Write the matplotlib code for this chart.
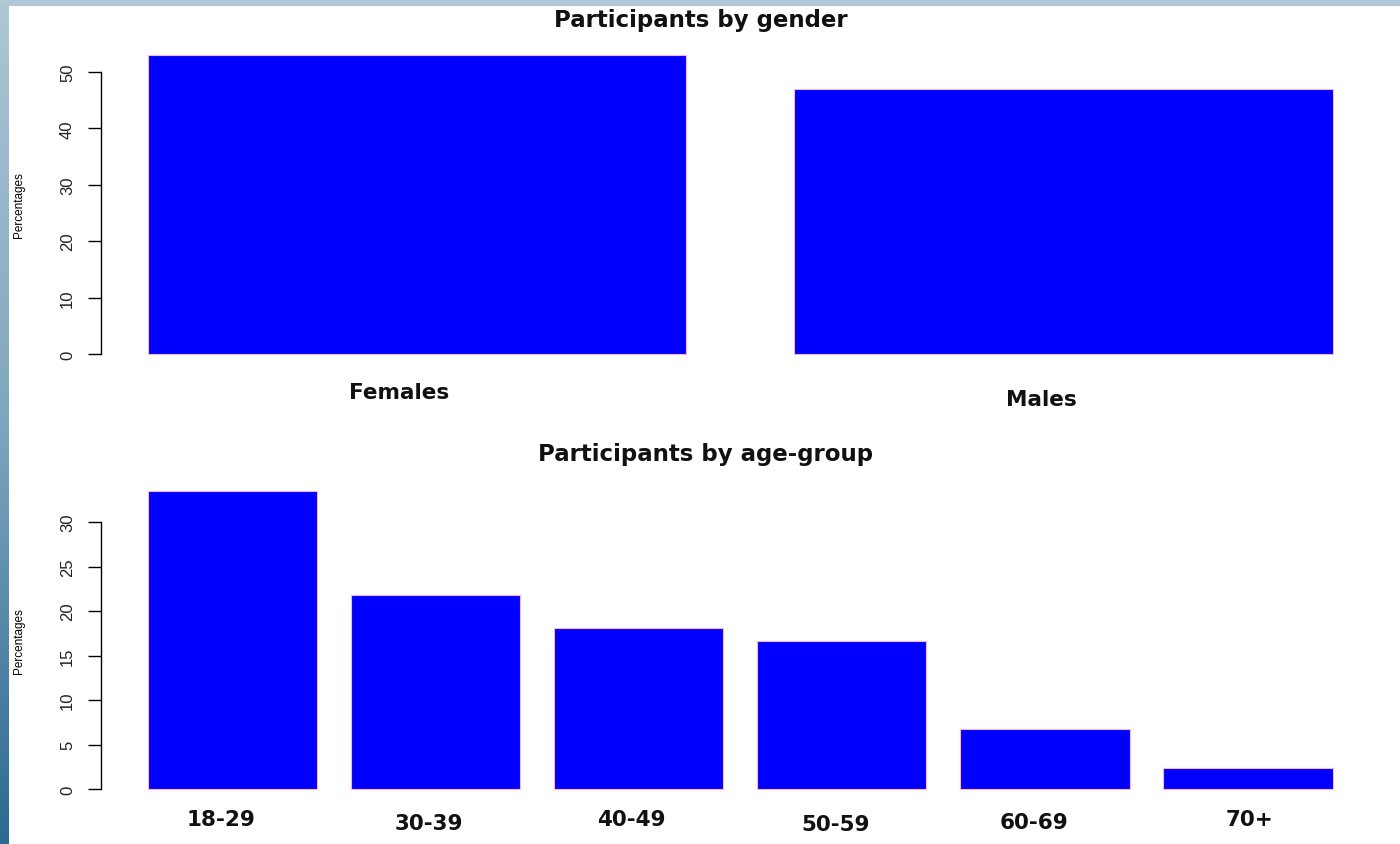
import numpy as np
import matplotlib.pyplot as plt
from matplotlib.colors import LinearSegmentedColormap

# data
gender_labels = ['Females', 'Males']
gender_pct = [53.0, 47.0]
gender_ticks = [0, 10, 20, 30, 40, 50]

age_labels = ['18-29', '30-39', '40-49', '50-59', '60-69', '70+']
age_pct = [33.5, 21.8, 18.1, 16.6, 6.7, 2.4]
age_ticks = [0, 5, 10, 15, 20, 25, 30]

W, H = 1400, 845
fig = plt.figure(figsize=(W / 100, H / 100), dpi=100)
fig.patch.set_facecolor('white')


def px(left, top, right, bottom):
    return [left / W, 1 - bottom / H, (right - left) / W, (bottom - top) / H]


# slide background showing at the edges
bg = fig.add_axes(px(0, 0, 9, H))
grad = np.linspace(0, 1, 256).reshape(-1, 1)
cmap = LinearSegmentedColormap.from_list('slide', ['#adc7d5', '#7fa6bd', '#2c6a91'])
bg.imshow(grad, aspect='auto', cmap=cmap, extent=[0, 1, 0, 1], origin='upper')
bg.axis('off')
top_strip = fig.add_axes(px(0, 0, W, 7))
top_strip.set_facecolor('#b1c9d7')
top_strip.set_xticks([])
top_strip.set_yticks([])
for s in top_strip.spines.values():
    s.set_visible(False)

narrow = ['Liberation Sans', 'DejaVu Sans']


def r_barplot(ax, labels, vals, ticks, dx, dy):
    n = len(vals)
    x = np.arange(n) * 1.2 + 0.7
    ax.bar(x, vals, width=1.0, color='#0000ff', edgecolor='#ffb6c1', linewidth=0.8)
    span = n * 1.2 - 0.2
    ax.set_xlim(0.2 - 0.04 * span, n * 1.2 + 0.04 * span)
    top = max(vals)
    ax.set_ylim(-0.04 * top, 1.04 * top)
    for s in ['top', 'right', 'bottom']:
        ax.spines[s].set_visible(False)
    ax.spines['left'].set_bounds(ticks[0], ticks[-1])
    ax.spines['left'].set_linewidth(1.0)
    ax.set_xticks([])
    ax.set_yticks(ticks)
    ax.set_yticklabels([str(t) for t in ticks], rotation=90, va='center',
                       family=narrow, fontsize=12, color='#222222')
    ax.tick_params(axis='y', direction='out', length=9.4, width=1.0, pad=9)
    ax.set_ylabel('Percentages', family=narrow, fontsize=8.5)
    ax.yaxis.set_label_coords(-0.059, 0.5)
    for xi, lab, ox, oy in zip(x, labels, dx, dy):
        ax.annotate(lab, (xi, 0), xycoords=('data', 'axes fraction'),
                    xytext=(ox, -oy), textcoords='offset pixels',
                    ha='center', va='center', fontsize=15.5, fontweight='bold',
                    color='#111111', family='DejaVu Sans')


ax1 = fig.add_axes(px(100.6, 44, 1380, 367))
r_barplot(ax1, gender_labels, gender_pct, gender_ticks,
          [-18, -22], [26, 33])

ax2 = fig.add_axes(px(100.6, 480, 1380, 802))
r_barplot(ax2, age_labels, age_pct, age_ticks,
          [-12, -7, -7, -6, -11, 2], [18, 22, 18, 23, 21, 18])

fig.text(701 / W, 1 - 20 / H, 'Participants by gender', ha='center', va='center',
         fontsize=16.5, fontweight='bold', family='DejaVu Sans', color='#111111')
fig.text(706 / W, 1 - 455 / H, 'Participants by age-group', ha='center', va='center',
         fontsize=16.5, fontweight='bold', family='DejaVu Sans', color='#111111')

fig.savefig('out.png', dpi=100, facecolor='white')
